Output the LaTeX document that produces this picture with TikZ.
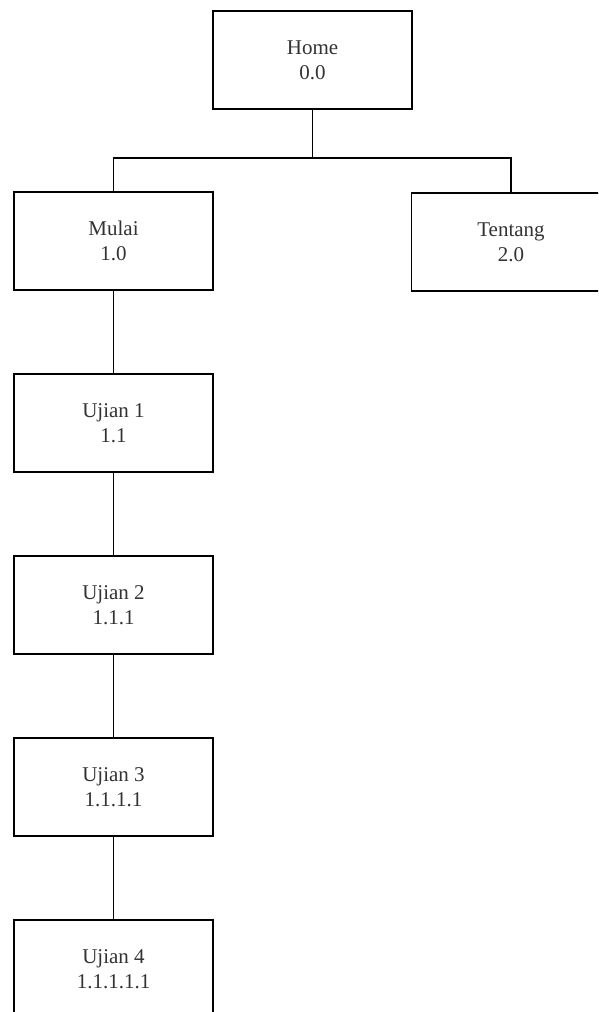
\documentclass[tikz,border=0pt]{standalone}
\usepackage{fontspec}
\setmainfont{Liberation Serif}
\begin{document}
\begin{tikzpicture}[x=1pt,y=-1pt,
  pagebox/.style={draw=black, line width=1.2pt, fill=white, minimum width=199pt, minimum height=98pt,
    inner sep=0pt, align=center, font=\fontsize{21}{25}\selectfont, text=black!80},
  link/.style={draw=black, line width=1.1pt}]
\useasboundingbox (0,0) rectangle (598,1012);
\clip (0,0) rectangle (598,1012);
\fill[white] (0,0) rectangle (598,1012);
\node[pagebox] (home) at (312.5,60) {Home\\0.0};
\node[pagebox] (mulai) at (113.5,241) {Mulai\\1.0};
\node[pagebox] (tentang) at (511,242) {Tentang\\2.0};
\node[pagebox] (u1) at (113.5,423) {Ujian 1\\1.1};
\node[pagebox] (u2) at (113.5,605) {Ujian 2\\1.1.1};
\node[pagebox] (u3) at (113.5,787) {Ujian 3\\1.1.1.1};
\node[pagebox] (u4) at (113.5,969) {Ujian 4\\1.1.1.1.1};
\coordinate (bus) at (312.5,158);
\draw[link] (home.south) -- (bus);
\draw[link] (bus) -| (mulai.north);
\draw[link] (bus) -| (tentang.north);
\draw[link] (mulai) -- (u1);
\draw[link] (u1) -- (u2);
\draw[link] (u2) -- (u3);
\draw[link] (u3) -- (u4);
\end{tikzpicture}
\end{document}
